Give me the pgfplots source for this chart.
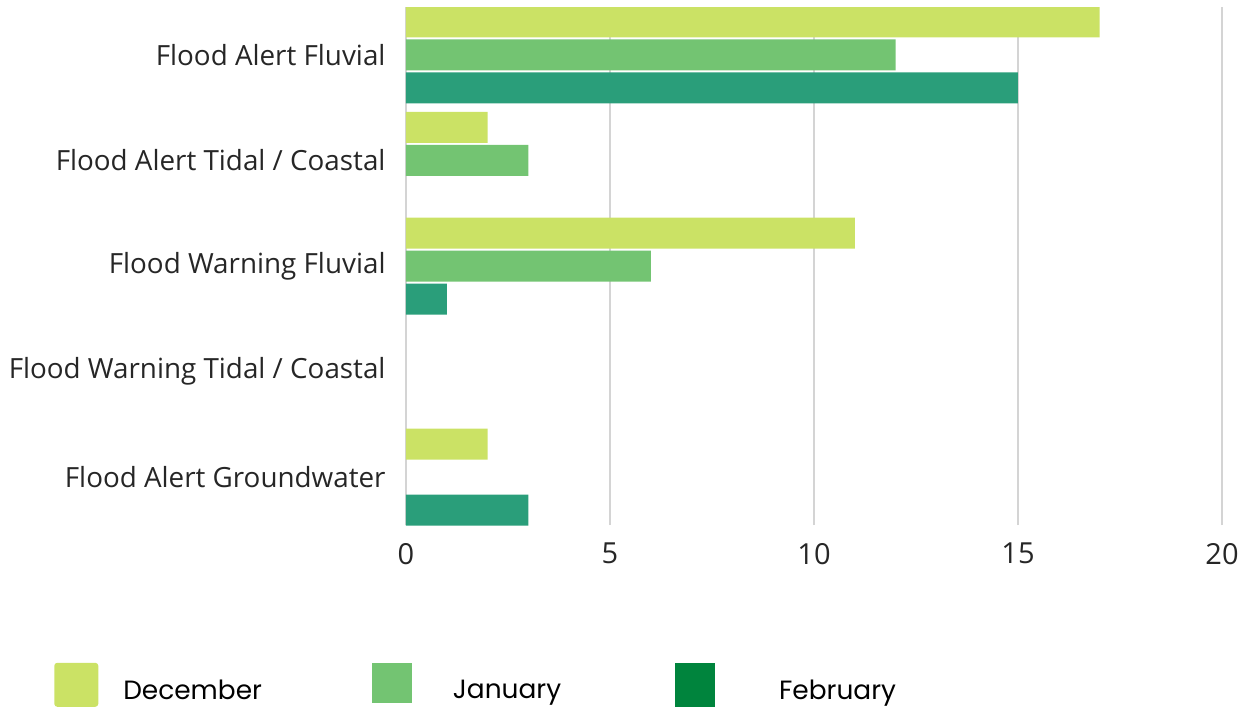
\documentclass[border=0pt]{standalone}
\usepackage{fontspec}
\setmainfont{Open Sans}
\newfontfamily\legfont{Poppins}
\usepackage{pgfplots}
\pgfplotsset{compat=1.18}
\definecolor{cdec}{HTML}{CBE265}
\definecolor{cjan}{HTML}{73C472}
\definecolor{cfeb}{HTML}{2A9E7A}
\definecolor{cfebleg}{HTML}{00843D}
\definecolor{gridc}{HTML}{D4D4D4}
\definecolor{txt}{HTML}{262626}
\begin{document}
\begin{tikzpicture}
\path[use as bounding box] (-203pt,-91.5pt) rectangle (419pt,262.5pt);
\begin{axis}[
  scale only axis, width=408pt, height=259pt,
  xbar, xmin=0, xmax=20, ymin=-0.454, ymax=4.454,
  xtick={0,5,10,15,20}, ytick={0,1,2,3,4},
  yticklabels={Flood Alert Groundwater, Flood Warning Tidal / Coastal, Flood Warning Fluvial, Flood Alert Tidal / Coastal, Flood Alert Fluvial},
  axis line style={draw=none}, major tick length=0pt,
  xmajorgrids, grid style={gridc, line width=0.6pt},
  /pgf/number format/assume math mode=true,
  tick label style={text=txt},
  xticklabel style={yshift=-5.5pt, font=\fontsize{14.5}{17}\selectfont},
  yticklabel style={xshift=-6.7pt, font=\fontsize{13.9}{17}\selectfont},
  bar width=15.5pt,
  legend columns=3,
  legend style={draw=none, fill=none, inner sep=0pt, outer sep=0pt,
    at={(-0.431,-0.266)}, anchor=north west,
    font=\legfont\fontsize{13.2}{15}\selectfont, text=black,
    nodes={inner sep=0pt},
    /tikz/column 1/.style={column sep=12.5pt},
    /tikz/column 2/.style={column sep=55pt},
    /tikz/column 3/.style={column sep=20.5pt},
    /tikz/column 4/.style={column sep=57pt},
    /tikz/column 5/.style={column sep=32pt},
  },
]
\addplot[fill=cdec, draw=none, bar shift=16.5pt,
  legend image code/.code={\fill[cdec, rounded corners=1.5pt] (0pt,-8pt) rectangle (22pt,14pt);}]
  coordinates {(17,4) (2,3) (11,2) (2,0)};
\addplot[fill=cjan, draw=none, bar shift=0pt,
  legend image code/.code={\fill[cjan] (0pt,-6pt) rectangle (20pt,14pt);}]
  coordinates {(12,4) (3,3) (6,2)};
\addplot[fill=cfeb, draw=none, bar shift=-16.5pt,
  legend image code/.code={\fill[cfebleg] (0pt,-8pt) rectangle (20pt,14pt);}]
  coordinates {(15,4) (1,2) (3,0)};
\legend{December, January, February}
\end{axis}
\end{tikzpicture}
\end{document}
